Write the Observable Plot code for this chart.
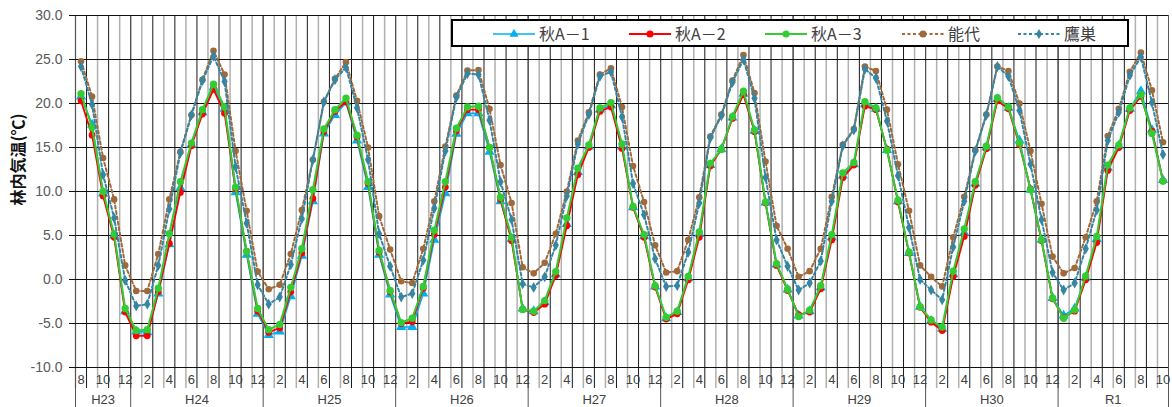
<!DOCTYPE html>
<html><head><meta charset="utf-8">
<script src="https://cdn.jsdelivr.net/npm/d3@7"></script>
<script src="https://cdn.jsdelivr.net/npm/@observablehq/plot@0.6"></script>
<style>
html,body{margin:0;padding:0;background:#fff;}
#wrap{position:relative;width:1172px;height:407px;overflow:hidden;}
</style></head><body><div id="wrap"></div>
<script>
// ---- data ----
const yearLabels = ["H23","H24","H25","H26","H27","H28","H29","H30","R1"];
const yearFirstMonth = [8,1,1,1,1,1,1,1,1];
const yearLastMonth  = [12,12,12,12,12,12,12,12,10];
const yTicks = [-10,-5,0,5,10,15,20,25,30];
const seriesNames = ["秋A－1","秋A－2","秋A－3","能代","鷹巣"];

const akitaA1 = [20.8,17.6,9.8,5.0,-3.6,-5.9,-6.0,-1.6,4.0,10.4,15.3,19.0,21.8,19.4,
 9.9,2.8,-3.9,-6.3,-5.9,-1.9,2.7,8.9,16.6,18.7,20.1,15.8,10.5,2.8,
 -1.7,-5.4,-5.4,-1.6,4.5,9.8,16.55,18.9,18.9,14.5,8.9,4.6,
 -3.3,-3.6,-2.6,0.6,6.3,12.2,15.1,19.3,19.8,15.1,8.2,4.9,
 -0.8,-4.4,-3.7,0.15,5.2,13.0,14.8,18.4,21.1,16.9,8.75,1.7,
 -1.15,-4.1,-3.6,-0.9,4.8,11.8,13.1,19.9,19.4,14.7,8.9,3.0,
 -3.1,-4.7,-5.6,0.6,5.3,10.9,15.0,20.5,19.5,15.8,10.2,4.5,
 -2.1,-4.1,-3.3,0.2,4.6,12.7,15.2,19.4,21.4,17.0,11.3];
const akitaA2 = [20.3,16.4,9.5,4.8,-3.7,-6.4,-6.4,-1.4,4.1,9.9,15.2,18.8,21.6,18.9,
 10.3,3.2,-3.6,-6.0,-5.5,-1.4,3.0,9.2,16.8,19.1,20.2,16.2,10.9,3.1,
 -1.4,-5.0,-4.8,-1.0,5.1,10.5,16.9,19.3,19.3,15.0,9.1,4.4,
 -3.4,-3.75,-2.8,0.45,6.1,11.9,15.0,19.1,19.6,14.9,8.2,4.8,
 -0.85,-4.5,-3.9,-0.05,4.8,12.9,14.8,18.3,21.0,16.8,8.7,1.6,
 -1.25,-4.0,-3.7,-1.05,4.5,11.55,13.0,19.7,19.3,14.8,8.8,3.0,
 -3.15,-4.85,-5.8,0.34,4.9,10.7,14.85,20.3,19.4,15.3,10.3,4.4,
 -2.2,-4.3,-3.6,-0.04,4.2,12.4,15.0,19.2,20.8,16.85,11.2];
const akitaA3 = [21.1,17.3,10.0,5.15,-3.3,-5.8,-5.7,-1.0,5.2,11.1,15.5,19.3,22.2,19.6,
 10.5,3.2,-3.3,-5.7,-5.1,-0.9,3.5,10.2,17.1,19.3,20.6,16.4,11.1,3.3,
 -1.25,-4.9,-4.4,-0.8,5.6,11.1,17.2,19.6,19.7,15.0,9.35,4.8,
 -3.4,-3.6,-2.4,0.9,7.0,12.65,15.3,19.5,20.1,15.4,8.3,5.1,
 -0.7,-4.3,-3.6,0.35,5.4,13.2,14.8,18.5,21.4,17.0,8.8,1.8,
 -1.1,-4.2,-3.5,-0.7,5.1,12.1,13.3,20.2,19.5,14.7,9.0,3.1,
 -3.1,-4.6,-5.4,0.95,5.75,11.1,15.15,20.65,19.6,15.5,10.2,4.5,
 -2.1,-4.4,-3.45,0.4,4.9,13.0,15.3,19.5,21.0,16.6,11.2];
const noshiro = [24.8,20.8,13.8,9.1,1.6,-1.3,-1.3,2.9,9.1,14.5,18.7,22.7,26.0,23.3,
 14.6,7.8,0.9,-1.1,-0.6,2.9,7.9,13.6,20.2,22.8,24.7,20.3,15.0,7.2,
 3.4,-0.2,-0.4,3.5,8.9,15.1,20.9,23.75,23.8,19.4,13.0,8.7,
 1.4,0.7,1.9,5.2,10.0,15.8,19.0,23.3,24.0,19.6,12.9,8.8,
 3.9,0.8,0.95,4.5,9.35,16.25,18.75,22.6,25.5,21.2,13.4,6.1,
 3.5,0.3,0.95,3.5,9.4,15.3,17.1,24.2,23.7,19.3,13.1,7.8,
 1.6,0.3,-0.8,4.8,9.4,14.7,18.75,24.2,23.7,20.0,14.6,8.6,
 2.6,0.7,1.3,4.8,8.9,16.3,19.4,23.6,25.8,21.5,15.6];
const takanosu = [24.2,19.9,11.9,7.0,-0.1,-3.0,-2.8,1.6,8.0,14.4,18.7,22.6,25.4,22.5,
 12.8,6.4,-0.6,-2.8,-2.0,1.7,6.9,13.6,20.2,22.7,24.1,19.5,13.6,5.2,
 1.5,-2.0,-1.6,2.2,8.1,14.6,20.7,23.4,23.3,18.1,11.1,6.8,
 -0.5,-0.9,0.3,3.9,9.5,15.4,18.75,23.1,23.6,18.5,10.9,7.35,
 2.35,-0.8,-0.7,3.1,8.7,16.1,18.6,22.4,25.0,20.6,11.6,4.5,
 1.5,-1.2,-0.4,2.1,8.9,15.2,17.0,23.9,22.9,18.0,11.8,5.9,
 0.0,-1.2,-2.3,3.7,8.9,14.6,18.7,24.2,23.1,19.2,13.1,6.8,
 0.8,-1.2,-0.4,3.5,7.9,15.8,19.0,23.2,25.3,20.1,14.2];

// ---- derived structures ----
const cats = [];
yearLabels.forEach((y, k) => {
  for (let m = yearFirstMonth[k]; m <= yearLastMonth[k]; m++) cats.push({year: y, month: m});
});
const n = cats.length;
const boundaries = d3.range(n + 1).map(k => k - 0.5);
const evenB = boundaries.filter((d, k) => k % 2 === 0);
const oddB = boundaries.filter((d, k) => k % 2 === 1);
const yearStart = [], yearEnd = [];
{ let s = 0; yearLabels.forEach((y, k) => { const c = yearLastMonth[k] - yearFirstMonth[k] + 1; yearStart.push(s); yearEnd.push(s + c - 1); s += c; }); }
const yearBounds = [...yearStart.map(s => s - 0.5), n - 0.5];
const yearCenters = yearStart.map((s, k) => (s + yearEnd[k]) / 2);
const labelIdx = d3.range(0, n, 2);

const styles = [
  {name: seriesNames[0], values: akitaA1, color: "#00B0F0", width: 1.6, dash: null, symbol: "triangle", r: 3.8},
  {name: seriesNames[1], values: akitaA2, color: "#FF0000", width: 1.8, dash: null, symbol: "circle", r: 3.4},
  {name: seriesNames[2], values: akitaA3, color: "#33CC33", width: 2, dash: null, symbol: "circle", r: 3.7},
  {name: seriesNames[3], values: noshiro, color: "#A0693A", width: 2, dash: "3,2.5", symbol: "circle", r: 3.3},
  {name: seriesNames[4], values: takanosu, color: "#3585A3", width: 2, dash: "3,2.5", symbol: "diamond", r: 3.3}
];

const seriesMarks = [];
for (const s of styles) {
  const rows = s.values.map((v, i) => ({i, v}));
  seriesMarks.push(Plot.line(rows, {x: "i", y: "v", stroke: s.color, strokeWidth: s.width, strokeDasharray: s.dash}));
  seriesMarks.push(Plot.dot(rows, {x: "i", y: "v", fill: s.color, stroke: "none", symbol: s.symbol, r: s.r}));
}

const chart = Plot.plot({
  width: 1172, height: 407,
  marginLeft: 75, marginRight: 4, marginTop: 15, marginBottom: 40,
  style: {fontFamily: "'Liberation Sans', 'Noto Sans CJK JP', sans-serif", background: "#fff", overflow: "visible"},
  x: {type: "linear", domain: [-0.5, n - 0.5], label: null},
  y: {domain: [-10, 30], label: null},
  marks: [
    Plot.ruleX(evenB, {x: d => d, stroke: "#b0b0b0", strokeWidth: 1.5, insetBottom: -21}),
    Plot.ruleX(oddB, {x: d => d, stroke: "#1a1a1a", strokeWidth: 1, insetBottom: -21}),
    Plot.ruleX(yearBounds, {x: d => d, stroke: "#555", strokeWidth: 1, insetBottom: -40}),
    Plot.ruleY(yTicks, {y: d => d, stroke: "#111", strokeWidth: 1, insetLeft: -6}),
    Plot.axisY(yTicks, {tickSize: 0, tickPadding: 13, tickFormat: d => d.toFixed(1), fontSize: 14, color: "#595959", label: null}),
    Plot.text(["林内気温(℃)"], {frameAnchor: "left", dx: -57, dy: 14, rotate: -90, fontSize: 16, fontWeight: "bold", fill: "#111", fontFamily: "'Noto Sans CJK JP', sans-serif"}),
    ...seriesMarks,
    Plot.axisX(labelIdx, {tickSize: 0, tickPadding: 7, tickFormat: i => String(cats[i].month), fontSize: 13, color: "#404040", label: null}),
    Plot.axisX(yearCenters, {tickSize: 0, tickPadding: 27, tickFormat: d => yearLabels[yearCenters.indexOf(d)], fontSize: 13, color: "#404040", label: null})
  ]
});
document.getElementById("wrap").appendChild(chart);

// ---- legend (inside plot area, top right) ----
const lg = d3.select("#wrap").append("svg")
  .attr("width", 1172).attr("height", 407)
  .style("position", "absolute").style("left", "0px").style("top", "0px");
lg.append("rect").attr("x", 452).attr("y", 20).attr("width", 676).attr("height", 26)
  .attr("fill", "#fff").attr("stroke", "#000").attr("stroke-width", 2);
const legendX = [493, 629, 765, 902, 1018];
const symPath = {
  triangle: d3.symbol(d3.symbolTriangle, 36)(),
  circle: d3.symbol(d3.symbolCircle, 40)(),
  diamond: d3.symbol(d3.symbolDiamond, 30)()
};
styles.forEach((s, k) => {
  const g = lg.append("g").attr("transform", `translate(${legendX[k]},34)`);
  g.append("line").attr("x1", 0).attr("x2", 42).attr("y1", 0).attr("y2", 0)
    .attr("stroke", s.color).attr("stroke-width", s.width).attr("stroke-dasharray", s.dash);
  g.append("path").attr("d", symPath[s.symbol]).attr("transform", "translate(21,0)").attr("fill", s.color);
  g.append("text").attr("x", 46).attr("y", 0).attr("dy", "0.36em")
    .attr("font-family", "'Noto Sans CJK JP', sans-serif").attr("font-size", 16).attr("fill", "#404040")
    .text(s.name);
});
</script></body></html>
